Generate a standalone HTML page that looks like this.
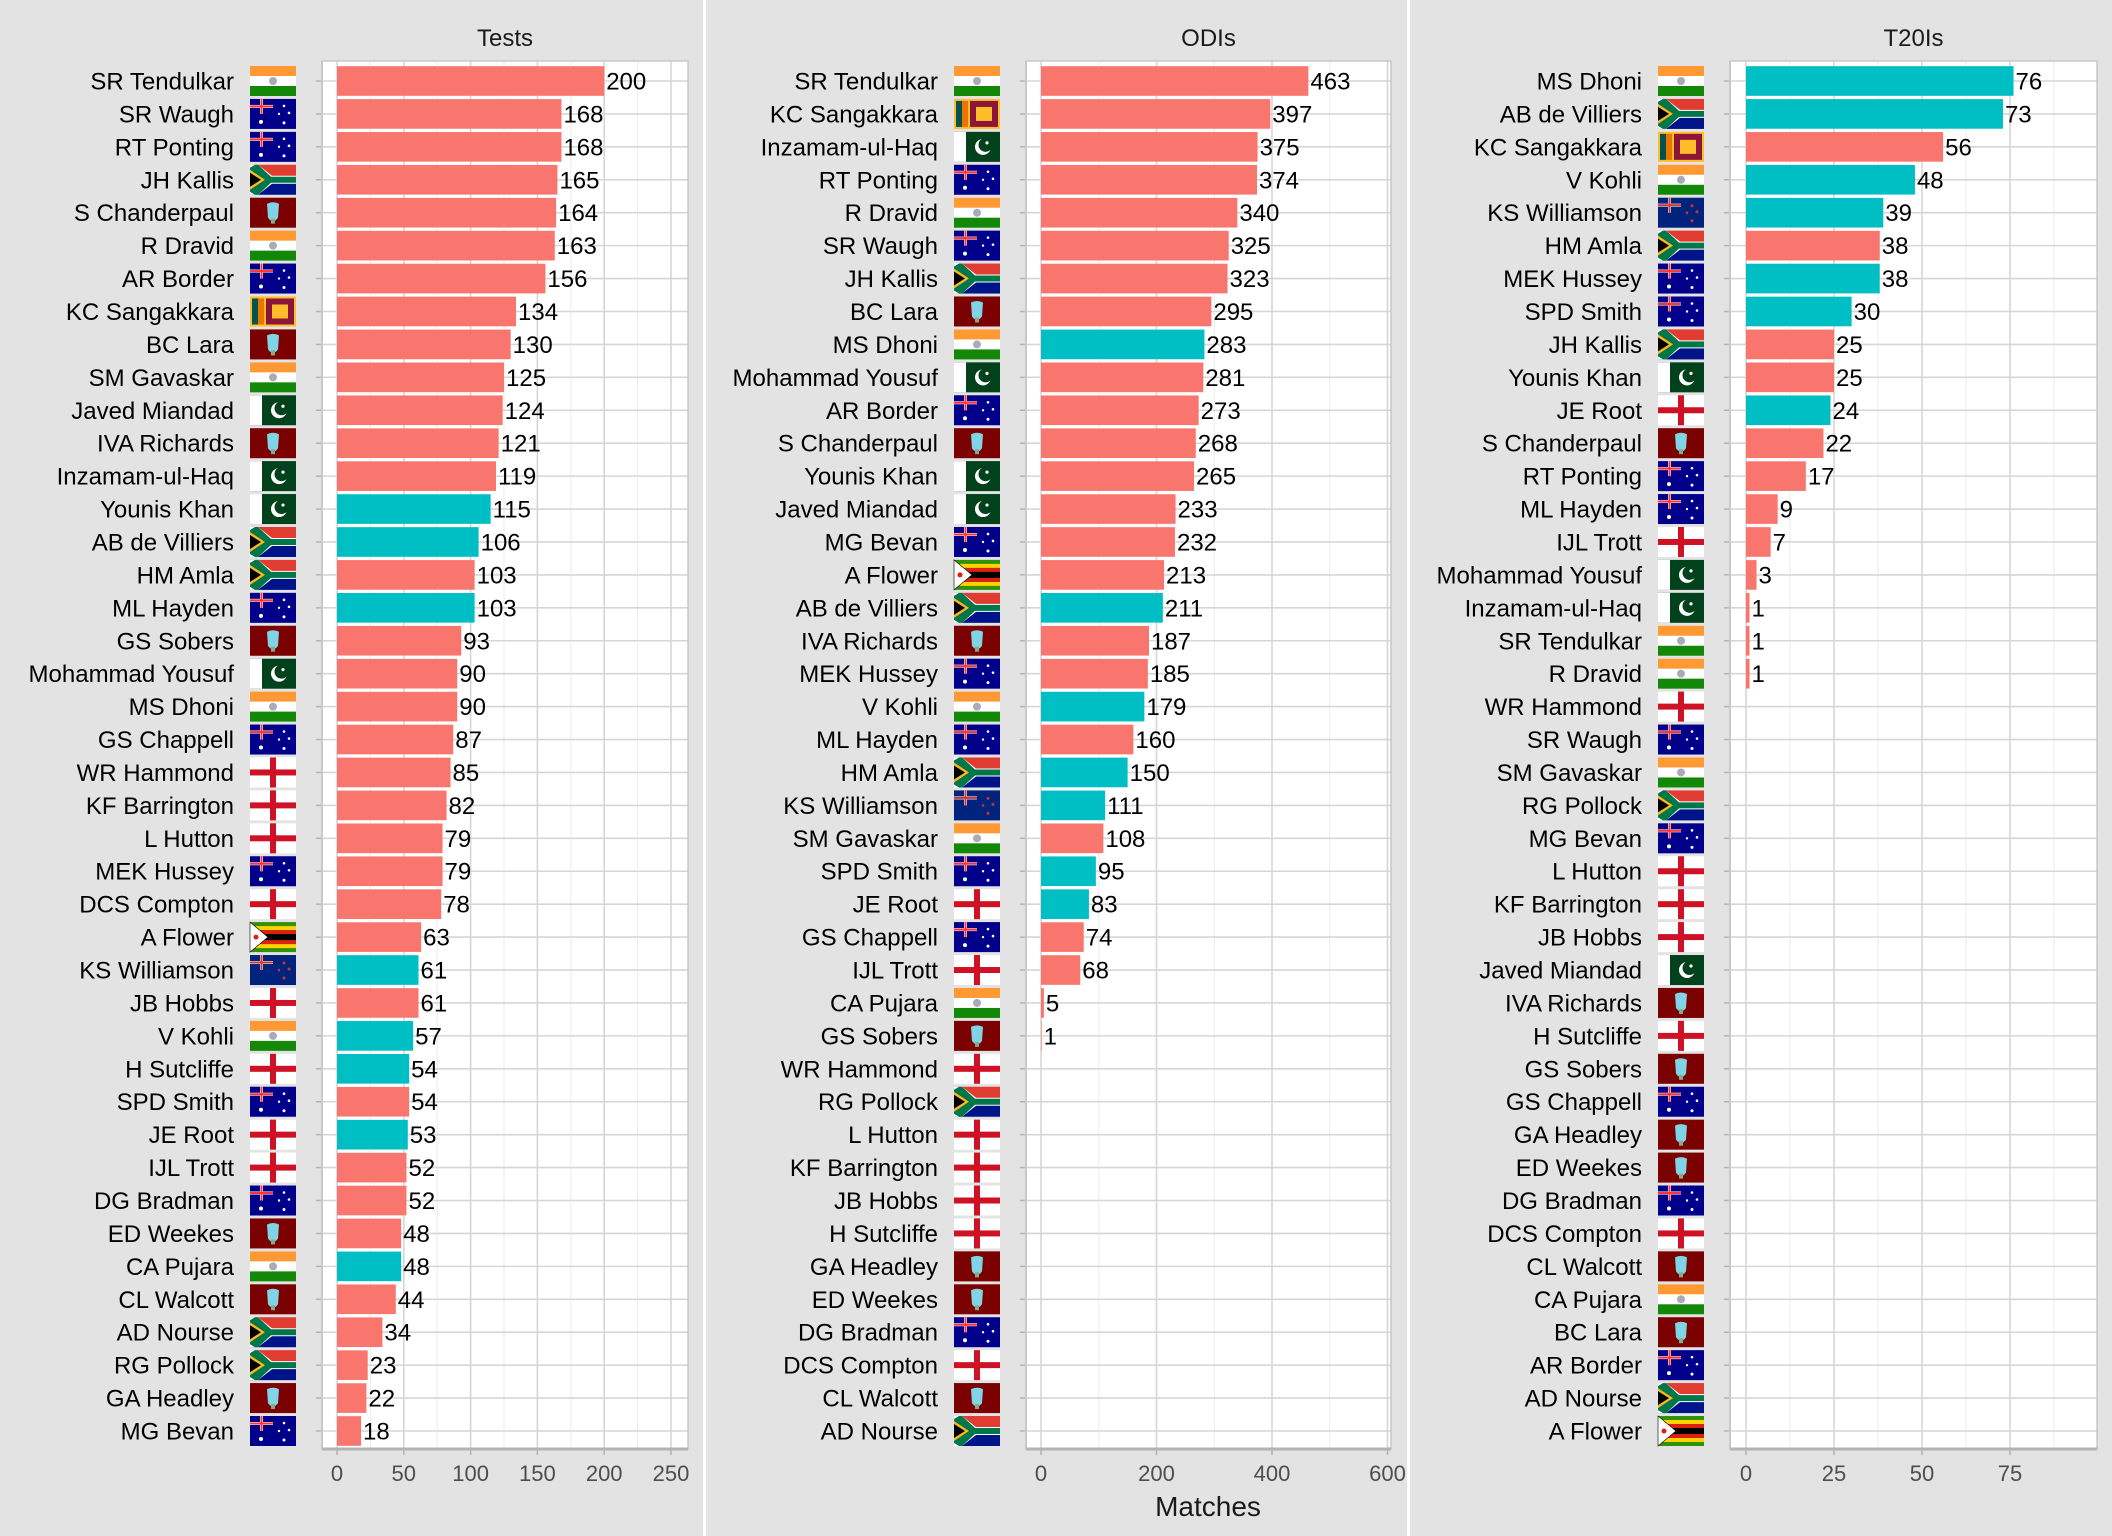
<!DOCTYPE html>
<html><head><meta charset="utf-8"><style>
html,body{margin:0;padding:0;background:#e3e3e3}
svg{display:block;font-family:"Liberation Sans",sans-serif}
</style></head><body>
<svg id="s" width="2112" height="1536" viewBox="0 0 2112 1536" xmlns="http://www.w3.org/2000/svg">
<defs>
<g id="IND"><rect width="46" height="30" fill="#fff"/><rect width="46" height="10" fill="#FF9933"/><rect y="20" width="46" height="10" fill="#138808"/><circle cx="23" cy="15" r="4" fill="#aab" /></g>
<g id="AUS"><rect width="46" height="30" fill="#00008B"/><rect x="0" y="6" width="23" height="3" fill="#fff"/><rect x="10" y="0" width="3" height="15" fill="#fff"/><rect x="0" y="6.5" width="23" height="2" fill="#f33"/><rect x="10.5" y="0" width="2" height="15" fill="#f33"/><circle cx="11" cy="23" r="2" fill="#fff"/><circle cx="34" cy="7" r="1.3" fill="#fff"/><circle cx="39" cy="14" r="1.3" fill="#fff"/><circle cx="34" cy="24" r="1.5" fill="#fff"/><circle cx="29" cy="15" r="1.2" fill="#fff"/></g>
<g id="NZ"><rect width="46" height="30" fill="#00247D"/><rect x="0" y="6" width="23" height="3" fill="#fff"/><rect x="10" y="0" width="3" height="15" fill="#fff"/><rect x="0" y="6.5" width="23" height="2" fill="#c33"/><rect x="10.5" y="0" width="2" height="15" fill="#c33"/><circle cx="34" cy="8" r="1.5" fill="#c33"/><circle cx="39" cy="14" r="1.5" fill="#c33"/><circle cx="34" cy="23" r="1.5" fill="#c33"/><circle cx="29" cy="15" r="1.3" fill="#c33"/></g>
<g id="SA"><rect width="46" height="15" fill="#E03C31"/><rect y="15" width="46" height="15" fill="#001489"/><polygon points="0,0 8,0 22,11 46,11 46,19 22,19 8,30 0,30" fill="#fff"/><polygon points="0,3 5,0 8,0 21,12 46,12 46,18 21,18 8,30 5,30 0,27" fill="#007749"/><polygon points="0,5 15,15 0,25" fill="#FFB81C"/><polygon points="0,8 11,15 0,22" fill="#000"/></g>
<g id="WI"><rect width="46" height="30" fill="#7B0000"/><path d="M17 6 Q23 3 29 6 L28 20 Q23 27 18 20 Z" fill="#7fd4e6"/><rect x="21" y="21" width="4" height="5" fill="#8a8"/></g>
<g id="PAK"><rect width="46" height="30" fill="#01411C"/><rect width="12" height="30" fill="#fff"/><circle cx="29" cy="15" r="8" fill="#fff"/><circle cx="31.5" cy="13" r="7" fill="#01411C"/><circle cx="33" cy="11" r="1.6" fill="#fff"/></g>
<g id="ENG"><rect width="46" height="30" fill="#fff"/><rect x="20" width="6" height="30" fill="#CE1124"/><rect y="12" width="46" height="6" fill="#CE1124"/></g>
<g id="SL"><rect width="46" height="30" fill="#FFBE29"/><rect x="2" y="2" width="6" height="26" fill="#00534E"/><rect x="8" y="2" width="6" height="26" fill="#EB7400"/><rect x="16" y="2" width="28" height="26" fill="#8D153A"/><rect x="22" y="8" width="16" height="14" fill="#FFBE29"/></g>
<g id="ZIM"><rect width="46" height="30" fill="#319208"/><rect y="4" width="46" height="4" fill="#FFD200"/><rect y="22" width="46" height="4" fill="#FFD200"/><rect y="8" width="46" height="4" fill="#DE2010"/><rect y="18" width="46" height="4" fill="#DE2010"/><rect y="12" width="46" height="6" fill="#000"/><polygon points="0,0 18,15 0,30" fill="#fff" stroke="#000" stroke-width="0.6"/><circle cx="6" cy="15" r="2.5" fill="#DE2010"/></g>
</defs>
</svg>
<script>
(function(){
var S="F8766D",T="00BFC4";
var tests=[["SR Tendulkar",200,S,"IND"],["SR Waugh",168,S,"AUS"],["RT Ponting",168,S,"AUS"],["JH Kallis",165,S,"SA"],["S Chanderpaul",164,S,"WI"],["R Dravid",163,S,"IND"],["AR Border",156,S,"AUS"],["KC Sangakkara",134,S,"SL"],["BC Lara",130,S,"WI"],["SM Gavaskar",125,S,"IND"],["Javed Miandad",124,S,"PAK"],["IVA Richards",121,S,"WI"],["Inzamam-ul-Haq",119,S,"PAK"],["Younis Khan",115,T,"PAK"],["AB de Villiers",106,T,"SA"],["HM Amla",103,S,"SA"],["ML Hayden",103,T,"AUS"],["GS Sobers",93,S,"WI"],["Mohammad Yousuf",90,S,"PAK"],["MS Dhoni",90,S,"IND"],["GS Chappell",87,S,"AUS"],["WR Hammond",85,S,"ENG"],["KF Barrington",82,S,"ENG"],["L Hutton",79,S,"ENG"],["MEK Hussey",79,S,"AUS"],["DCS Compton",78,S,"ENG"],["A Flower",63,S,"ZIM"],["KS Williamson",61,T,"NZ"],["JB Hobbs",61,S,"ENG"],["V Kohli",57,T,"IND"],["H Sutcliffe",54,T,"ENG"],["SPD Smith",54,S,"AUS"],["JE Root",53,T,"ENG"],["IJL Trott",52,S,"ENG"],["DG Bradman",52,S,"AUS"],["ED Weekes",48,S,"WI"],["CA Pujara",48,T,"IND"],["CL Walcott",44,S,"WI"],["AD Nourse",34,S,"SA"],["RG Pollock",23,S,"SA"],["GA Headley",22,S,"WI"],["MG Bevan",18,S,"AUS"]];
var odis=[["SR Tendulkar",463,S,"IND"],["KC Sangakkara",397,S,"SL"],["Inzamam-ul-Haq",375,S,"PAK"],["RT Ponting",374,S,"AUS"],["R Dravid",340,S,"IND"],["SR Waugh",325,S,"AUS"],["JH Kallis",323,S,"SA"],["BC Lara",295,S,"WI"],["MS Dhoni",283,T,"IND"],["Mohammad Yousuf",281,S,"PAK"],["AR Border",273,S,"AUS"],["S Chanderpaul",268,S,"WI"],["Younis Khan",265,S,"PAK"],["Javed Miandad",233,S,"PAK"],["MG Bevan",232,S,"AUS"],["A Flower",213,S,"ZIM"],["AB de Villiers",211,T,"SA"],["IVA Richards",187,S,"WI"],["MEK Hussey",185,S,"AUS"],["V Kohli",179,T,"IND"],["ML Hayden",160,S,"AUS"],["HM Amla",150,T,"SA"],["KS Williamson",111,T,"NZ"],["SM Gavaskar",108,S,"IND"],["SPD Smith",95,T,"AUS"],["JE Root",83,T,"ENG"],["GS Chappell",74,S,"AUS"],["IJL Trott",68,S,"ENG"],["CA Pujara",5,S,"IND"],["GS Sobers",1,S,"WI"],["WR Hammond",0,S,"ENG"],["RG Pollock",0,S,"SA"],["L Hutton",0,S,"ENG"],["KF Barrington",0,S,"ENG"],["JB Hobbs",0,S,"ENG"],["H Sutcliffe",0,S,"ENG"],["GA Headley",0,S,"WI"],["ED Weekes",0,S,"WI"],["DG Bradman",0,S,"AUS"],["DCS Compton",0,S,"ENG"],["CL Walcott",0,S,"WI"],["AD Nourse",0,S,"SA"]];
var t20=[["MS Dhoni",76,T,"IND"],["AB de Villiers",73,T,"SA"],["KC Sangakkara",56,S,"SL"],["V Kohli",48,T,"IND"],["KS Williamson",39,T,"NZ"],["HM Amla",38,S,"SA"],["MEK Hussey",38,T,"AUS"],["SPD Smith",30,T,"AUS"],["JH Kallis",25,S,"SA"],["Younis Khan",25,S,"PAK"],["JE Root",24,T,"ENG"],["S Chanderpaul",22,S,"WI"],["RT Ponting",17,S,"AUS"],["ML Hayden",9,S,"AUS"],["IJL Trott",7,S,"ENG"],["Mohammad Yousuf",3,S,"PAK"],["Inzamam-ul-Haq",1,S,"PAK"],["SR Tendulkar",1,S,"IND"],["R Dravid",1,S,"IND"],["WR Hammond",0,S,"ENG"],["SR Waugh",0,S,"AUS"],["SM Gavaskar",0,S,"IND"],["RG Pollock",0,S,"SA"],["MG Bevan",0,S,"AUS"],["L Hutton",0,S,"ENG"],["KF Barrington",0,S,"ENG"],["JB Hobbs",0,S,"ENG"],["Javed Miandad",0,S,"PAK"],["IVA Richards",0,S,"WI"],["H Sutcliffe",0,S,"ENG"],["GS Sobers",0,S,"WI"],["GS Chappell",0,S,"AUS"],["GA Headley",0,S,"WI"],["ED Weekes",0,S,"WI"],["DG Bradman",0,S,"AUS"],["DCS Compton",0,S,"ENG"],["CL Walcott",0,S,"WI"],["CA Pujara",0,S,"IND"],["BC Lara",0,S,"WI"],["AR Border",0,S,"AUS"],["AD Nourse",0,S,"SA"],["A Flower",0,S,"ZIM"]];
var panels=[
 {title:"Tests",data:tests,L:322,R:688,x0:337,u:1.336,maj:[0,50,100,150,200,250],minStep:25,max:267},
 {title:"ODIs",data:odis,L:1026,R:1391,x0:1041,u:0.5775,maj:[0,200,400,600],minStep:100,max:620},
 {title:"T20Is",data:t20,L:1730,R:2097,x0:1746,u:3.52,maj:[0,25,50,75],minStep:12.5,max:100}
];
var h='';
h+='<rect x="703" y="0" width="3" height="1536" fill="#fff"/><rect x="1407" y="0" width="3" height="1536" fill="#fff"/>';
var yTop=61,bot=1449,y0=81,dy=(1431-81)/41;
panels.forEach(function(p){
 var cx=(p.L+p.R)/2;
 h+='<text x="'+cx+'" y="46" font-size="24" text-anchor="middle" fill="#1a1a1a">'+p.title+'</text>';
 h+='<rect x="'+p.L+'" y="'+yTop+'" width="'+(p.R-p.L)+'" height="'+(bot-yTop)+'" fill="#fff"/>';
 for(var v=-p.minStep*2;v<=p.max;v+=p.minStep){var x=p.x0+v*p.u;if(x<p.L||x>p.R)continue;
  var maj=p.maj.indexOf(v)>=0;h+='<line x1="'+x+'" x2="'+x+'" y1="'+yTop+'" y2="'+bot+'" stroke="'+(maj?'#d6d6d6':'#ebebeb')+'" stroke-width="'+(maj?1.6:1)+'"/>';}
 p.data.forEach(function(d,i){var y=y0+i*dy;
  h+='<line x1="'+p.L+'" x2="'+p.R+'" y1="'+y+'" y2="'+y+'" stroke="#d6d6d6" stroke-width="1.6"/>';});
 p.data.forEach(function(d,i){var y=y0+i*dy;
  if(d[1]>0){var w=d[1]*p.u;h+='<rect x="'+p.x0+'" y="'+(y-dy*0.45)+'" width="'+w+'" height="'+(dy*0.9)+'" fill="#'+d[2]+'"/>';
   h+='<text x="'+(p.x0+w+2)+'" y="'+(y+8.5)+'" font-size="24" fill="#000">'+d[1]+'</text>';}
  h+='<text x="'+(p.L-88)+'" y="'+(y+8.5)+'" font-size="24" text-anchor="end" fill="#000">'+d[0]+'</text>';
  h+='<use href="#'+d[3]+'" x="'+(p.L-72)+'" y="'+(y-15)+'"/>';
  h+='<line x1="'+(p.L-6)+'" x2="'+p.L+'" y1="'+y+'" y2="'+y+'" stroke="#b3b3b3" stroke-width="1.5"/>';
 });
 h+='<rect x="'+p.L+'" y="'+yTop+'" width="'+(p.R-p.L)+'" height="'+(bot-yTop)+'" fill="none" stroke="#c8c8c8" stroke-width="1.5"/>';
 h+='<line x1="'+p.L+'" x2="'+p.R+'" y1="'+bot+'" y2="'+bot+'" stroke="#b3b3b3" stroke-width="3"/>';
 h+='<line x1="'+p.L+'" x2="'+p.L+'" y1="'+yTop+'" y2="'+bot+'" stroke="#c8c8c8" stroke-width="2"/>';
 p.maj.forEach(function(v){var x=p.x0+v*p.u;
  h+='<line x1="'+x+'" x2="'+x+'" y1="'+bot+'" y2="'+(bot+6)+'" stroke="#b3b3b3" stroke-width="1.5"/>';
  h+='<text x="'+x+'" y="1481" font-size="22" text-anchor="middle" fill="#4d4d4d">'+v+'</text>';});
});
h+='<text x="1208" y="1516" font-size="28" text-anchor="middle" fill="#1a1a1a">Matches</text>';
document.getElementById('s').insertAdjacentHTML('beforeend',h);
})();
</script>
</body></html>
